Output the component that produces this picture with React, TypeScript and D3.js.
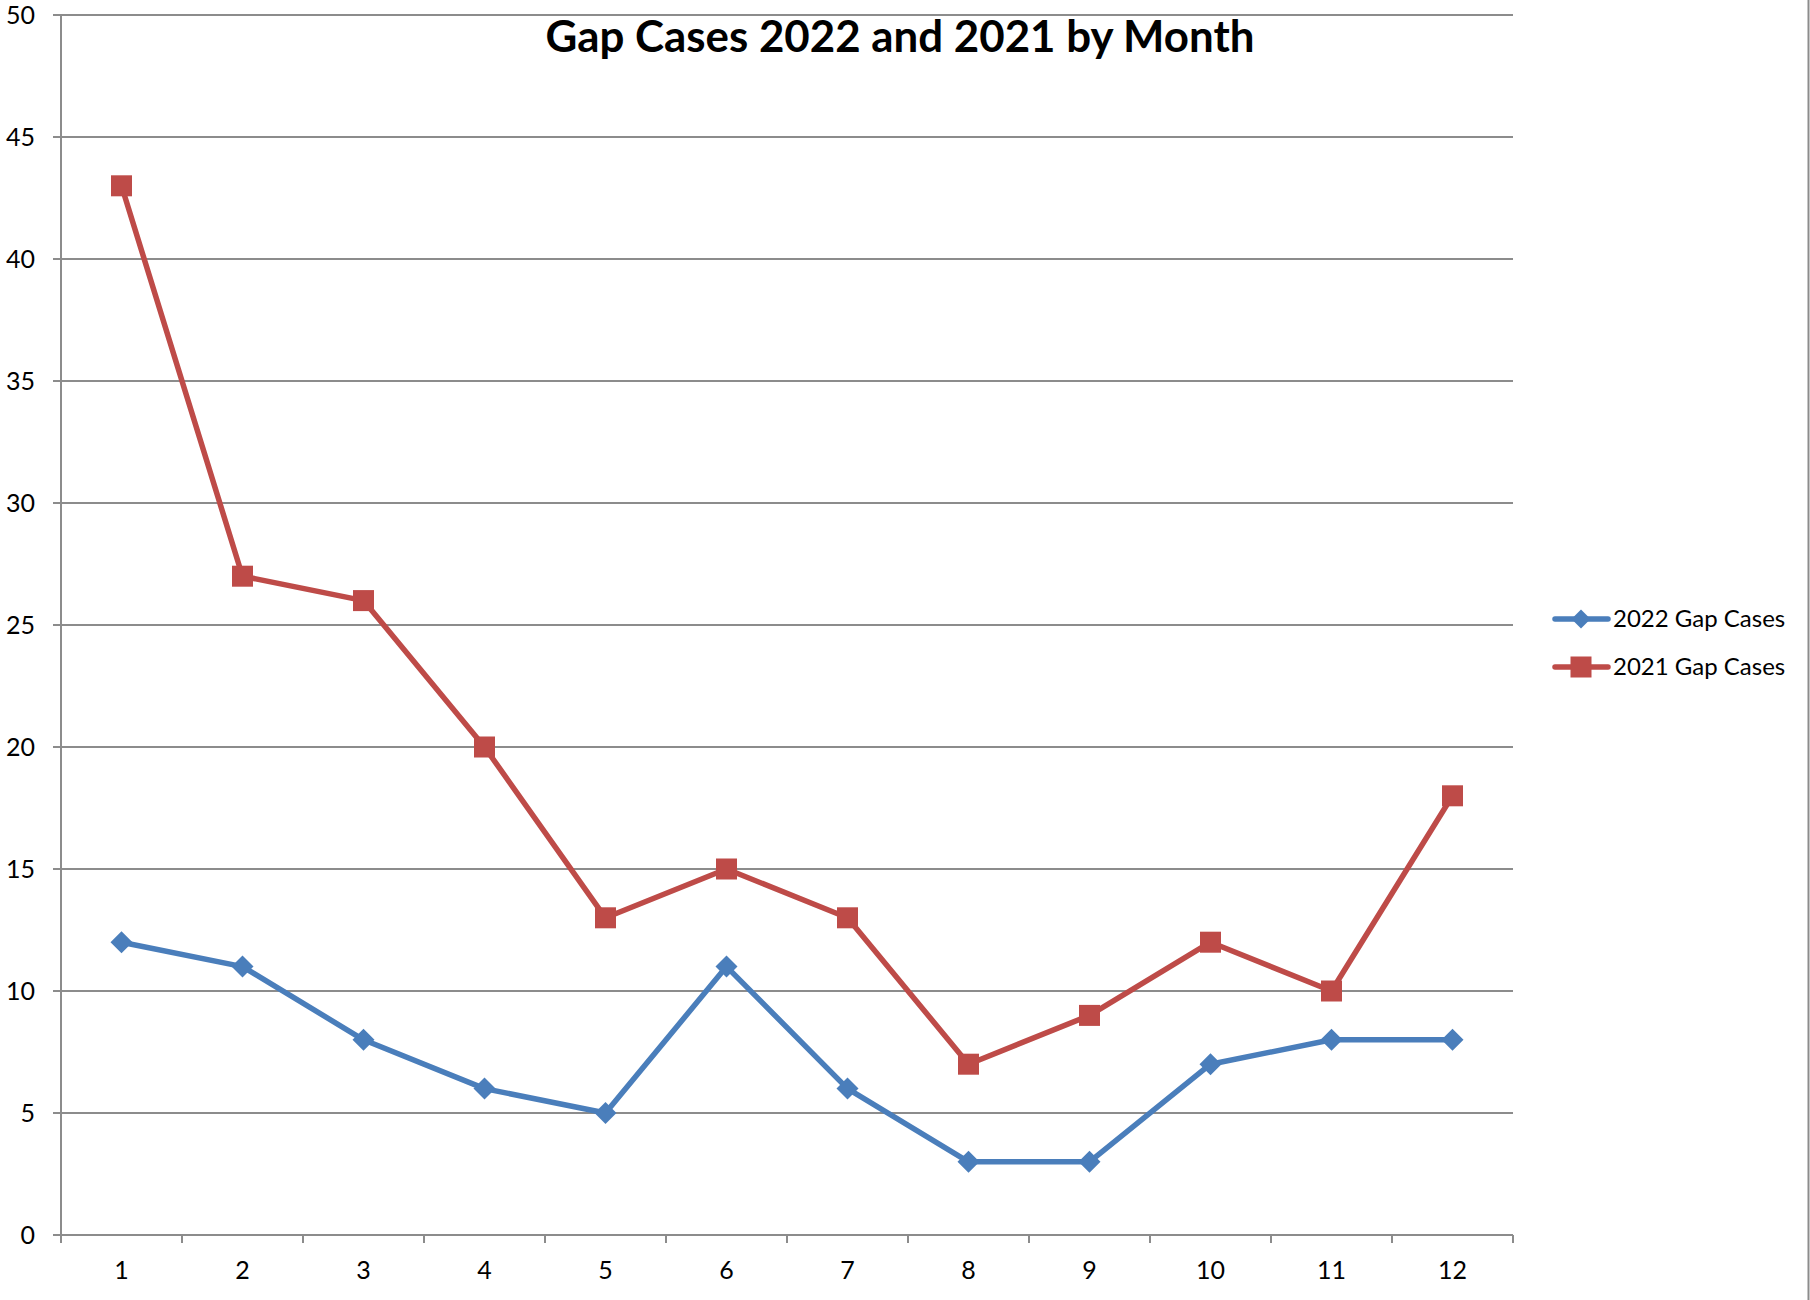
import React, { useEffect, useRef } from 'react';
import * as d3 from 'd3';

const months = [1, 2, 3, 4, 5, 6, 7, 8, 9, 10, 11, 12];
const cases2022 = [12, 11, 8, 6, 5, 11, 6, 3, 3, 7, 8, 8];
const cases2021 = [43, 27, 26, 20, 13, 15, 13, 7, 9, 12, 10, 18];
const yTicks = [0, 5, 10, 15, 20, 25, 30, 35, 40, 45, 50];

const App = () => {
  const ref = useRef<SVGSVGElement>(null);

  useEffect(() => {
    const svg = d3.select(ref.current);
    const width = 1810;
    const height = 1300;
    const marginTop = 15;
    const marginLeft = 61;
    const marginRight = 297;
    const marginBottom = 65;
    const font = "Lato, 'Open Sans', sans-serif";
    const gridColor = "#8c8c8c";

    svg.selectAll("*").remove();

    const x = d3.scaleBand<number>()
      .domain(months)
      .range([marginLeft, width - marginRight])
      .padding(0);

    const y = d3.scaleLinear()
      .domain([0, 50])
      .range([height - marginBottom, marginTop]);

    const cx = (m: number) => (x(m) as number) + x.bandwidth() / 2;

    // horizontal grid lines
    svg.append("g")
      .selectAll("line")
      .data(yTicks)
      .join("line")
        .attr("x1", marginLeft - 8)
        .attr("x2", width - marginRight)
        .attr("y1", d => y(d))
        .attr("y2", d => y(d))
        .attr("stroke", gridColor)
        .attr("stroke-width", 2);

    // y axis
    svg.append("line")
      .attr("x1", marginLeft).attr("x2", marginLeft)
      .attr("y1", y(50)).attr("y2", y(0) + 8)
      .attr("stroke", gridColor).attr("stroke-width", 2);

    svg.append("g")
      .selectAll("text")
      .data(yTicks)
      .join("text")
        .attr("x", 35)
        .attr("y", d => y(d))
        .attr("dy", "0.35em")
        .attr("text-anchor", "end")
        .attr("font-family", font)
        .attr("font-size", 25)
        .attr("fill", "#000")
        .text(d => d);

    // x axis ticks at band edges
    const edges = months.map(m => x(m) as number).concat([width - marginRight]);
    svg.append("g")
      .selectAll("line")
      .data(edges)
      .join("line")
        .attr("x1", d => d).attr("x2", d => d)
        .attr("y1", y(0)).attr("y2", y(0) + 8)
        .attr("stroke", gridColor).attr("stroke-width", 2);

    svg.append("g")
      .selectAll("text")
      .data(months)
      .join("text")
        .attr("x", d => cx(d))
        .attr("y", 1279)
        .attr("text-anchor", "middle")
        .attr("font-family", font)
        .attr("font-size", 25)
        .attr("fill", "#000")
        .text(d => d);

    // right border
    svg.append("line")
      .attr("x1", 1808.5).attr("x2", 1808.5)
      .attr("y1", 0).attr("y2", height)
      .attr("stroke", gridColor).attr("stroke-width", 2);

    const series = [
      { name: "2022 Gap Cases", values: cases2022, color: "#4a7ebb", marker: "diamond" },
      { name: "2021 Gap Cases", values: cases2021, color: "#be4b48", marker: "square" },
    ];

    const line = d3.line<number>()
      .x((_, i) => cx(months[i]))
      .y(d => y(d));

    const diamond = (s: number) => `M0,${-s}L${s},0L0,${s}L${-s},0Z`;

    series.forEach(s => {
      const g = svg.append("g");
      g.append("path")
        .datum(s.values)
        .attr("fill", "none")
        .attr("stroke", s.color)
        .attr("stroke-width", 5.5)
        .attr("stroke-linejoin", "round")
        .attr("d", line);

      if (s.marker === "square") {
        g.selectAll("rect")
          .data(s.values)
          .join("rect")
            .attr("x", (_, i) => cx(months[i]) - 10.5)
            .attr("y", d => y(d) - 10.5)
            .attr("width", 21)
            .attr("height", 21)
            .attr("fill", s.color);
      } else {
        g.selectAll("path.m")
          .data(s.values)
          .join("path")
            .attr("class", "m")
            .attr("transform", (d, i) => `translate(${cx(months[i])},${y(d)})`)
            .attr("d", diamond(11))
            .attr("fill", s.color);
      }
    });

    // legend
    const legend = svg.append("g");
    series.forEach((s, i) => {
      const ly = 619 + i * 48;
      legend.append("line")
        .attr("x1", 1555).attr("x2", 1608)
        .attr("y1", ly).attr("y2", ly)
        .attr("stroke", s.color).attr("stroke-width", 5.5)
        .attr("stroke-linecap", "round");
      if (s.marker === "square") {
        legend.append("rect")
          .attr("x", 1581 - 10.5).attr("y", ly - 10.5)
          .attr("width", 21).attr("height", 21)
          .attr("fill", s.color);
      } else {
        legend.append("path")
          .attr("transform", `translate(1581,${ly})`)
          .attr("d", diamond(9.5))
          .attr("fill", s.color);
      }
      legend.append("text")
        .attr("x", 1613)
        .attr("y", ly)
        .attr("dy", "0.35em")
        .attr("font-family", font)
        .attr("font-size", 24)
        .attr("fill", "#000")
        .text(s.name);
    });

    // title
    svg.append("text")
      .attr("x", 900)
      .attr("y", 52)
      .attr("text-anchor", "middle")
      .attr("font-family", font)
      .attr("font-weight", "bold")
      .attr("font-size", 43)
      .attr("textLength", 709)
      .attr("lengthAdjust", "spacingAndGlyphs")
      .attr("fill", "#000")
      .text("Gap Cases 2022 and 2021 by Month");
  }, []);

  return (
    <svg
      ref={ref}
      width={1810}
      height={1300}
      style={{ position: "absolute", left: 0, top: 0, background: "#fff" }}
    ></svg>
  );
};

export default App;
